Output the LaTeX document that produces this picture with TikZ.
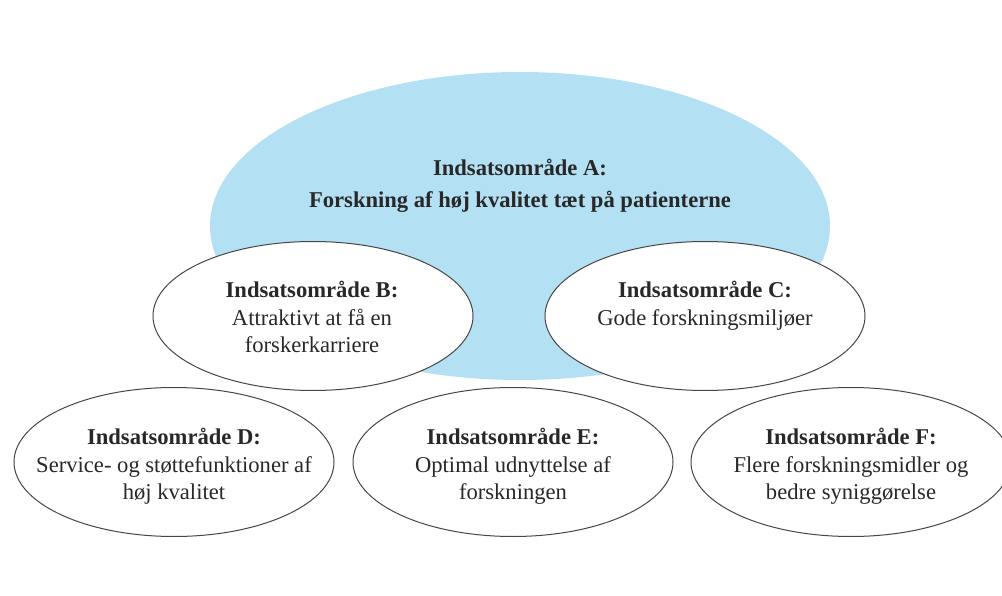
\documentclass[tikz,border=0pt]{standalone}
\usepackage{fontspec}
\setmainfont{Liberation Serif}
\usetikzlibrary{shapes.geometric}
\definecolor{ablue}{RGB}{180,224,243}
\definecolor{txt}{RGB}{40,40,40}
\definecolor{edge}{RGB}{70,70,70}
\tikzset{
  bigell/.style={ellipse, fill=ablue, draw=none, inner sep=0pt,
    minimum width=620pt, minimum height=308pt},
  smallell/.style={ellipse, fill=white, draw=edge, line width=1pt, inner sep=0pt,
    minimum width=320pt, minimum height=149pt},
  areatext/.style={anchor=north, inner sep=0pt, align=center, text=txt,
    font=\fontsize{22.6}{27.5}\selectfont},
  atext/.style={anchor=north, inner sep=0pt, align=center, text=txt,
    font=\fontsize{22.6}{32}\selectfont\bfseries}
}
\begin{document}
\begin{tikzpicture}[x=1pt,y=-1pt]
\useasboundingbox (0,0) rectangle (1002,596);
\fill[white] (0,0) rectangle (1002,596);
\node[bigell] (A) at (520,226) {};
\node[atext] (Atxt) at (520,159) {Indsatsområde A:\\Forskning af høj kvalitet tæt på patienterne};
\node[smallell] (B) at (313,316) {};
\node[smallell] (C) at (705,316) {};
\node[smallell] (D) at (174,462) {};
\node[smallell] (E) at (513,462) {};
\node[smallell] (F) at (851,462) {};
\node[areatext] (Btxt) at (312,281) {\textbf{Indsatsområde B:}\\Attraktivt at få en\\forskerkarriere};
\node[areatext] (Ctxt) at (705,281) {\textbf{Indsatsområde C:}\\Gode forskningsmiljøer};
\node[areatext] (Dtxt) at (174,428) {\textbf{Indsatsområde D:}\\Service- og støttefunktioner af\\høj kvalitet};
\node[areatext] (Etxt) at (513,428) {\textbf{Indsatsområde E:}\\Optimal udnyttelse af\\forskningen};
\node[areatext] (Ftxt) at (851,428) {\textbf{Indsatsområde F:}\\Flere forskningsmidler og\\bedre syniggørelse};
\end{tikzpicture}
\end{document}
